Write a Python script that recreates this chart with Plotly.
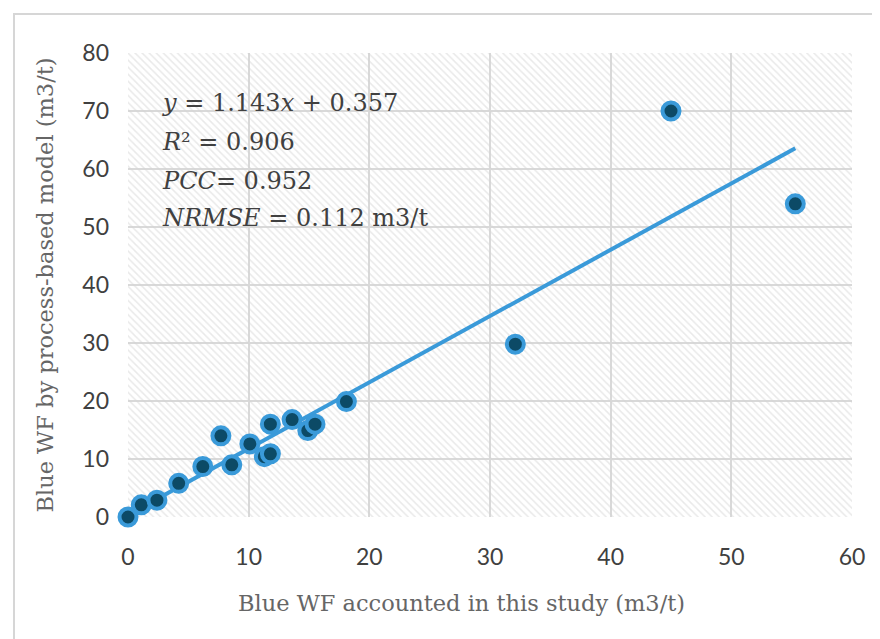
import plotly.graph_objects as go

# Data
this_study = [0.0, 1.1, 2.4, 4.2, 6.2, 7.7, 8.6, 10.1, 11.3, 11.8, 11.8, 13.6, 14.9, 15.5, 18.1, 32.1, 45.0, 55.3]
process_model = [0.0, 2.1, 2.9, 5.8, 8.7, 14.0, 9.0, 12.6, 10.4, 10.9, 16.0, 16.8, 14.9, 16.0, 19.9, 29.8, 70.0, 54.0]
slope = 1.143
intercept = 0.357
stats_lines = ["<i>y</i> = 1.143<i>x</i> + 0.357",
               "<i>R</i>² = 0.906",
               "<i>PCC</i>= 0.952",
               "<i>NRMSE</i> = 0.112 m3/t"]
x_ticks = [0, 10, 20, 30, 40, 50, 60]
y_ticks = [0, 10, 20, 30, 40, 50, 60, 70, 80]
x_range = [0, 60]
y_range = [0, 80]
x_title = "Blue WF accounted in this study (m3/t)"
y_title = "Blue WF by process-based model (m3/t)"

SERIF = "DejaVu Serif"
TICKFONT = dict(family="Lato", size=23, color="#404040")

# page body has an 8px offset; plot area should be at x 128..852, y 53..517 on screen
OFF = 8
L, T, PW, PH = 128 - OFF, 53 - OFF, 724, 464

fig = go.Figure()

# hatched plot-area background
fig.add_trace(go.Scatter(
    x=[x_range[0], x_range[1], x_range[1], x_range[0], x_range[0]],
    y=[y_range[0], y_range[0], y_range[1], y_range[1], y_range[0]],
    mode="lines", line=dict(width=0), fill="toself",
    fillcolor="rgba(0,0,0,0)",
    fillpattern=dict(shape="\\", fgcolor="#d4d4d4", bgcolor="rgba(0,0,0,0)", size=5, solidity=0.3),
    hoverinfo="skip", showlegend=False))

# trend line
xmax = max(this_study)
xmin = min(this_study)
fig.add_trace(go.Scatter(
    x=[xmin, xmax], y=[slope * xmin + intercept, slope * xmax + intercept],
    mode="lines", line=dict(color="#3a9ad9", width=4), showlegend=False))

fig.add_trace(go.Scatter(
    x=this_study, y=process_model, mode="markers", cliponaxis=False,
    marker=dict(size=17, color="#0c4a66", line=dict(color="#3a9ad9", width=4)),
    showlegend=False))

axis_common = dict(showgrid=True, gridcolor="#d9d9d9", gridwidth=2, zeroline=False,
                   showline=False, ticks="", tickfont=TICKFONT)

fig.update_xaxes(range=x_range, tickvals=x_ticks, **axis_common, ticklabelstandoff=24)
fig.update_yaxes(range=y_range, tickvals=y_ticks, **axis_common,
                 ticklabelstandoff=18,
                 title=dict(text=y_title,
                            font=dict(family=SERIF, size=22.5, color="#666666"), standoff=22))

# x-axis title (offset left of the plot centre, as in the reference)
fig.add_annotation(xref="paper", yref="paper", x=(461 - 128) / PW, y=(517 - 603) / PH,
                   xanchor="center", yanchor="middle", showarrow=False, text=x_title,
                   font=dict(family=SERIF, size=22.5, color="#666666"))

# stats text
line_px = [103, 142, 181, 218]
for txt, py in zip(stats_lines, line_px):
    fig.add_annotation(xref="paper", yref="paper", x=(160 - 128) / PW, y=(517 - py) / PH,
                       xanchor="left", yanchor="middle", showarrow=False, text=txt,
                       font=dict(family=SERIF, size=24, color="#404040"))

# outer frame
fig.add_shape(type="rect", xref="paper", yref="paper",
              x0=(14 - 128) / PW, x1=(900 - 128) / PW,
              y0=(517 - 700) / PH, y1=(517 - 14) / PH,
              line=dict(color="#d6d6d6", width=2), fillcolor="rgba(0,0,0,0)", layer="below")

fig.update_layout(width=880, height=639,
                  margin=dict(l=L, r=880 - L - PW, t=T, b=639 - T - PH),
                  plot_bgcolor="white", paper_bgcolor="white")

fig.write_html("out.html")
